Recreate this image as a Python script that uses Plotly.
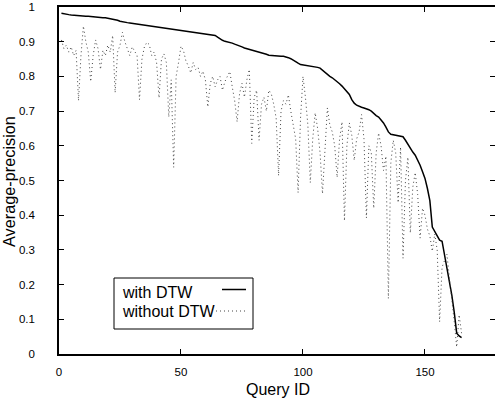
import plotly.graph_objects as go

query_id = list(range(1, 166))

with_dtw = [
    0.982, 0.980, 0.979, 0.978, 0.977, 0.976, 0.975, 0.975, 0.974, 0.974,
    0.973, 0.973, 0.972, 0.971, 0.971, 0.970, 0.970, 0.969, 0.969, 0.968,
    0.967, 0.966, 0.965, 0.962, 0.959, 0.957, 0.956, 0.955, 0.954, 0.953,
    0.952, 0.951, 0.950, 0.949, 0.948, 0.947, 0.946, 0.945, 0.944, 0.944,
    0.943, 0.942, 0.940, 0.939, 0.937, 0.936, 0.935, 0.934, 0.933, 0.933,
    0.932, 0.931, 0.930, 0.929, 0.929, 0.928, 0.927, 0.926, 0.925, 0.923,
    0.922, 0.921, 0.920, 0.918, 0.913, 0.908, 0.904, 0.901, 0.900, 0.898,
    0.896, 0.893, 0.891, 0.888, 0.885, 0.882, 0.880, 0.879, 0.877, 0.876,
    0.874, 0.872, 0.870, 0.867, 0.864, 0.861, 0.860, 0.859, 0.859, 0.858,
    0.858, 0.858, 0.857, 0.854, 0.851, 0.846, 0.842, 0.838, 0.834, 0.833,
    0.832, 0.831, 0.831, 0.829, 0.828, 0.826, 0.824, 0.818, 0.811, 0.806,
    0.800, 0.796, 0.791, 0.785, 0.779, 0.772, 0.764, 0.756, 0.748, 0.733,
    0.723, 0.717, 0.713, 0.711, 0.709, 0.707, 0.704, 0.700, 0.692, 0.687,
    0.683, 0.676, 0.666, 0.654, 0.640, 0.633, 0.632, 0.631, 0.630, 0.629,
    0.626, 0.616, 0.604, 0.592, 0.582, 0.573, 0.559, 0.544, 0.525, 0.506,
    0.477, 0.442, 0.366, 0.352, 0.340, 0.328, 0.325, 0.288, 0.252, 0.207,
    0.170, 0.120, 0.060, 0.052, 0.047,
]

without_dtw = [
    0.905, 0.880, 0.890, 0.870, 0.885, 0.860, 0.875, 0.730, 0.860, 0.945,
    0.900, 0.870, 0.785, 0.860, 0.905, 0.880, 0.820, 0.875, 0.860, 0.890,
    0.870, 0.918, 0.753, 0.870, 0.890, 0.927, 0.900, 0.880, 0.860, 0.885,
    0.870, 0.860, 0.733, 0.850, 0.885, 0.898, 0.892, 0.860, 0.870, 0.840,
    0.738, 0.850, 0.865, 0.840, 0.683, 0.790, 0.538, 0.800, 0.840, 0.887,
    0.875, 0.845, 0.830, 0.810, 0.840, 0.820, 0.826, 0.800, 0.815, 0.790,
    0.712, 0.780, 0.800, 0.770, 0.790, 0.800, 0.760, 0.785, 0.800, 0.814,
    0.770, 0.730, 0.669, 0.750, 0.780, 0.740, 0.790, 0.820, 0.607, 0.740,
    0.760, 0.616, 0.720, 0.740, 0.700, 0.760, 0.750, 0.720, 0.680, 0.514,
    0.700, 0.730, 0.720, 0.747, 0.700, 0.660, 0.620, 0.465, 0.680, 0.800,
    0.740, 0.660, 0.494, 0.620, 0.695, 0.650, 0.580, 0.462, 0.600, 0.709,
    0.660, 0.640, 0.600, 0.509, 0.620, 0.669, 0.384, 0.600, 0.666, 0.630,
    0.558, 0.620, 0.640, 0.690, 0.620, 0.392, 0.600, 0.580, 0.420, 0.580,
    0.637, 0.600, 0.529, 0.570, 0.160, 0.550, 0.616, 0.580, 0.436, 0.596,
    0.276, 0.500, 0.567, 0.349, 0.480, 0.523, 0.460, 0.334, 0.420, 0.400,
    0.360, 0.340, 0.296, 0.346, 0.300, 0.093, 0.250, 0.270, 0.288, 0.220,
    0.160, 0.093, 0.020, 0.113, 0.060,
]

series_names = ["with DTW", "without DTW"]
x_ticks = [0, 50, 100, 150]
y_ticks = [0, 0.1, 0.2, 0.3, 0.4, 0.5, 0.6, 0.7, 0.8, 0.9, 1]
y_tick_text = ["0", "0.1", "0.2", "0.3", "0.4", "0.5", "0.6", "0.7", "0.8", "0.9", "1"]

FONT = "Liberation Sans, Arial, Helvetica, sans-serif"
W, H = 495, 399
L, R, T, B = 59, 0, 7, 45
PW, PH = W - L - R, H - T - B


def px(x):
    return (x - L) / PW


def py(y):
    return (H - B - y) / PH


fig = go.Figure()
fig.add_trace(go.Scatter(
    x=query_id, y=with_dtw, mode="lines", name=series_names[0],
    line=dict(color="black", width=1.5), showlegend=False,
))
fig.add_trace(go.Scatter(
    x=query_id, y=without_dtw, mode="lines", name=series_names[1],
    line=dict(color="#444444", width=1, dash="1px,3px"), showlegend=False,
))
# invisible trace to carry the right-hand tick axis
fig.add_trace(go.Scatter(
    x=query_id, y=with_dtw, mode="lines", yaxis="y2", opacity=0,
    showlegend=False, hoverinfo="skip",
))

axis_common = dict(
    ticks="inside", ticklen=5, tickwidth=1, tickcolor="black",
    showgrid=False, zeroline=False,
    tickfont=dict(family=FONT, size=11.5, color="black"),
)

fig.update_layout(
    width=W, height=H,
    margin=dict(l=L, r=R, t=T, b=B, pad=0),
    paper_bgcolor="white", plot_bgcolor="white",
    font=dict(family=FONT, color="black"),
    xaxis=dict(
        range=[0, 178.7], tickvals=x_ticks, showline=True, linecolor="black",
        linewidth=1.5, mirror="ticks", ticklabelstandoff=6, **axis_common,
    ),
    yaxis=dict(
        range=[0, 1], tickvals=y_ticks, ticktext=y_tick_text, showline=True,
        linecolor="black", linewidth=1.5, ticklabelstandoff=20, **axis_common,
    ),
    yaxis2=dict(
        range=[0, 1], tickvals=y_ticks, overlaying="y", side="right",
        showticklabels=False, showline=False, ticks="inside", ticklen=5,
        tickcolor="black", showgrid=False, zeroline=False,
    ),
)

# axis titles
fig.add_annotation(text="Query ID", xref="paper", yref="paper",
                   x=px(278), y=py(389), xanchor="center", yanchor="middle",
                   showarrow=False,
                   font=dict(family=FONT, size=16, color="black"))
fig.add_annotation(text="Average-precision", xref="paper", yref="paper",
                   x=px(9), y=py(182), xanchor="center", yanchor="middle",
                   showarrow=False, textangle=-90,
                   font=dict(family=FONT, size=16.3, color="black"))

# legend box (gnuplot style: label left, sample right)
fig.add_shape(type="rect", xref="paper", yref="paper",
              x0=px(114), x1=px(253), y0=py(329), y1=py(278),
              line=dict(color="black", width=1), fillcolor="white", layer="above")
fig.add_annotation(text=series_names[0], xref="paper", yref="paper",
                   x=px(120), y=py(292), xanchor="left", yanchor="middle",
                   showarrow=False,
                   font=dict(family=FONT, size=16, color="black"))
fig.add_annotation(text=series_names[1], xref="paper", yref="paper",
                   x=px(120), y=py(311), xanchor="left", yanchor="middle",
                   showarrow=False,
                   font=dict(family=FONT, size=16, color="black"))
fig.add_shape(type="line", xref="paper", yref="paper",
              x0=px(222), x1=px(246), y0=py(289.5), y1=py(289.5),
              line=dict(color="black", width=1.5))
fig.add_shape(type="line", xref="paper", yref="paper",
              x0=px(216), x1=px(246), y0=py(311), y1=py(311),
              line=dict(color="#444444", width=1, dash="1px,3px"))

fig.write_html("out.html")
